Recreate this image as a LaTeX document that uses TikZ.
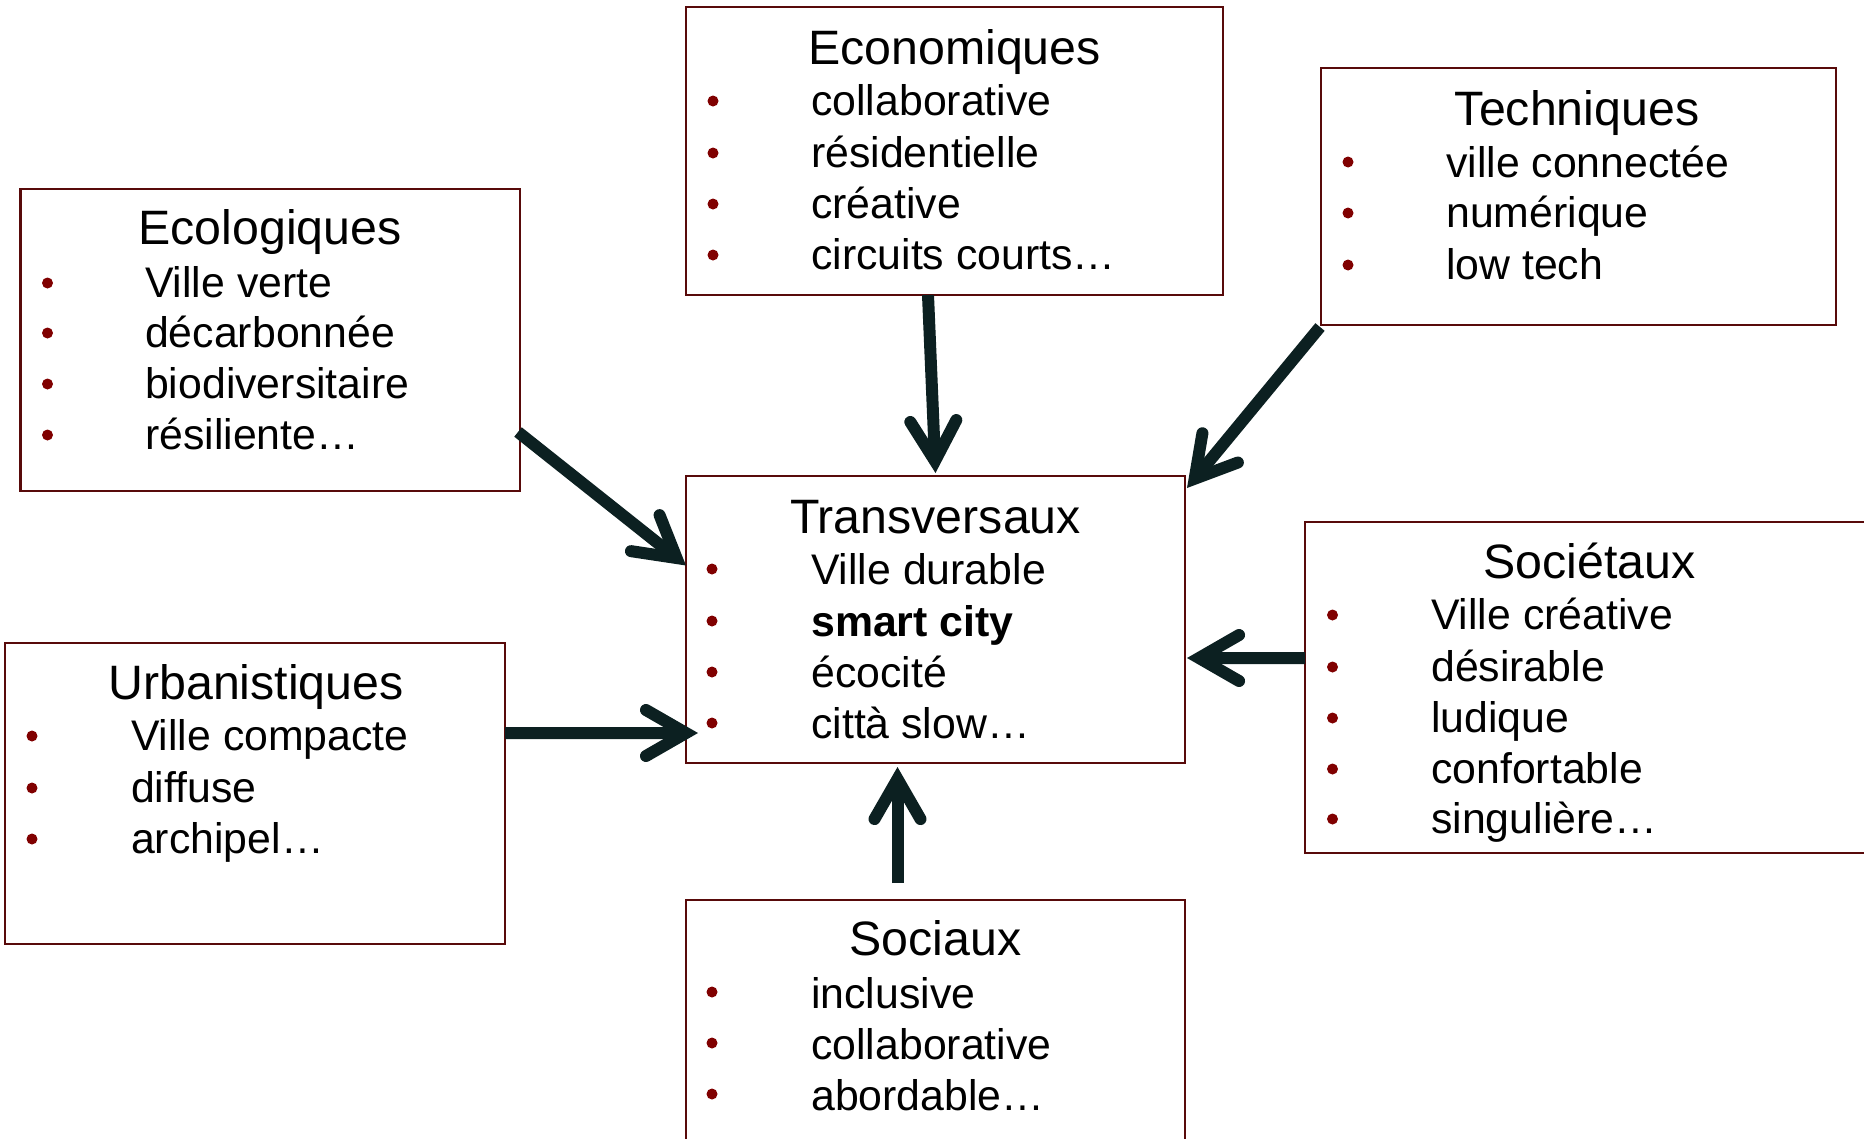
\documentclass[tikz,border=0pt]{standalone}
\usepackage{fontspec}
\setmainfont{Liberation Sans}
\usetikzlibrary{arrows.meta}
\definecolor{boxred}{RGB}{88,10,10}
\definecolor{bulred}{RGB}{128,0,0}
\definecolor{arrcol}{RGB}{12,32,33}
\newcommand{\ttlfont}{\fontsize{48.3bp}{58bp}\selectfont}
\newcommand{\itmfont}{\fontsize{42.8bp}{51bp}\selectfont}
\begin{document}
\begin{tikzpicture}[x=1bp,y=-1bp,
 box/.style={draw=boxred, line width=2.5bp, rectangle, inner sep=0pt, outer sep=0pt},
 ttl/.style={anchor=base, inner sep=0pt, font=\ttlfont},
 itm/.style={anchor=base west, inner sep=0pt, font=\itmfont},
 bul/.style={circle, fill=bulred, inner sep=0pt, minimum size=11bp},
 arr/.style={draw=arrcol, line width=12bp, -{Straight Barb[length=40bp, width=46bp, line cap=round, line join=miter]}},
]
\useasboundingbox (0,0) rectangle (1864,1138);
\fill[white] (0,0) rectangle (1864,1138);

% boxes
\node[box, minimum width=537bp, minimum height=288bp] (eco) at (954.5,151) {};
\node[box, minimum width=499.5bp, minimum height=302bp] (ecol) at (270.25,340) {};
\node[box, minimum width=515bp, minimum height=257bp] (tech) at (1578.5,196.5) {};
\node[box, minimum width=499bp, minimum height=287bp] (trans) at (935.5,619.5) {};
\node[box, minimum width=580bp, minimum height=331bp] (socit) at (1595,687.5) {};
\node[box, minimum width=500bp, minimum height=301bp] (urb) at (255,793.5) {};
\node[box, minimum width=499bp, minimum height=260bp] (soc) at (935.5,1030) {};

% Economiques
\node[ttl] (ecoT) at (954.5,64) {Economiques};
\node[bul] (ecoB1) at (713,101) {};
\node[bul] (ecoB2) at (713,153) {};
\node[bul] (ecoB3) at (713,204) {};
\node[bul] (ecoB4) at (713,255) {};
\node[itm] (eco1) at (811,115) {collaborative};
\node[itm] (eco2) at (811,167) {résidentielle};
\node[itm] (eco3) at (811,218) {créative};
\node[itm] (eco4) at (811,269) {circuits courts…};

% Ecologiques
\node[ttl] (ecolT) at (270,244) {Ecologiques};
\node[bul] (ecolB1) at (47.5,283) {};
\node[bul] (ecolB2) at (47.5,333) {};
\node[bul] (ecolB3) at (47.5,384) {};
\node[bul] (ecolB4) at (47.5,435) {};
\node[itm] (ecol1) at (145,297) {Ville verte};
\node[itm] (ecol2) at (145,347) {décarbonnée};
\node[itm] (ecol3) at (145,398) {biodiversitaire};
\node[itm] (ecol4) at (145,449) {résiliente…};

% Techniques
\node[ttl] (techT) at (1577,125) {Techniques};
\node[bul] (techB1) at (1348,162) {};
\node[bul] (techB2) at (1348,213) {};
\node[bul] (techB3) at (1348,265) {};
\node[itm] (tech1) at (1446,177) {ville connectée};
\node[itm] (tech2) at (1446,227) {numérique};
\node[itm] (tech3) at (1446,279) {low tech};

% Transversaux
\node[ttl] (transT) at (935.5,533) {Transversaux};
\node[bul] (transB1) at (712,569) {};
\node[bul] (transB2) at (712,621) {};
\node[bul] (transB3) at (712,672) {};
\node[bul] (transB4) at (712,723) {};
\node[itm] (trans1) at (811,584) {Ville durable};
\node[itm] (trans2) at (811,636) {\bfseries smart city};
\node[itm] (trans3) at (811,687) {écocité};
\node[itm] (trans4) at (811,738) {città slow…};

% Societaux
\node[ttl] (socitT) at (1589.5,578) {Sociétaux};
\node[bul] (socitB1) at (1332.5,615) {};
\node[bul] (socitB2) at (1332.5,667) {};
\node[bul] (socitB3) at (1332.5,718) {};
\node[bul] (socitB4) at (1332.5,769) {};
\node[bul] (socitB5) at (1332.5,819) {};
\node[itm] (socit1) at (1431,629) {Ville créative};
\node[itm] (socit2) at (1431,681) {désirable};
\node[itm] (socit3) at (1431,732) {ludique};
\node[itm] (socit4) at (1431,783) {confortable};
\node[itm] (socit5) at (1431,833) {singulière…};

% Urbanistiques
\node[ttl] (urbT) at (256,699) {Urbanistiques};
\node[bul] (urbB1) at (32,736) {};
\node[bul] (urbB2) at (32,788) {};
\node[bul] (urbB3) at (32,839) {};
\node[itm] (urb1) at (131,750) {Ville compacte};
\node[itm] (urb2) at (131,802) {diffuse};
\node[itm] (urb3) at (131,853) {archipel…};

% Sociaux
\node[ttl] (socT) at (935.5,955) {Sociaux};
\node[bul] (socB1) at (712,992) {};
\node[bul] (socB2) at (712,1043) {};
\node[bul] (socB3) at (712,1094) {};
\node[itm] (soc1) at (811,1008) {inclusive};
\node[itm] (soc2) at (811,1059) {collaborative};
\node[itm] (soc3) at (811,1110) {abordable…};

% arrows
\draw[arr] ([xshift=-2bp,yshift=-92bp]ecol.east) -- ([yshift=54bp]trans.west);
\draw[arr] ([xshift=-26.5bp]eco.south) -- ([yshift=3bp]trans.north);
\draw[arr] ([xshift=-1bp,yshift=-2bp]tech.south west) -- ([xshift=2bp,yshift=-12bp]trans.north east);
\draw[arr] ([yshift=29.5bp]socit.west) -- ([xshift=2bp,yshift=-38.5bp]trans.east);
\draw[arr] ([yshift=60.5bp]urb.east) -- ([xshift=12bp,yshift=-113.5bp]trans.west);
\draw[arr] ([xshift=-38bp,yshift=17bp]soc.north) -- ([xshift=-38bp,yshift=-4bp]trans.south);
\end{tikzpicture}
\end{document}
